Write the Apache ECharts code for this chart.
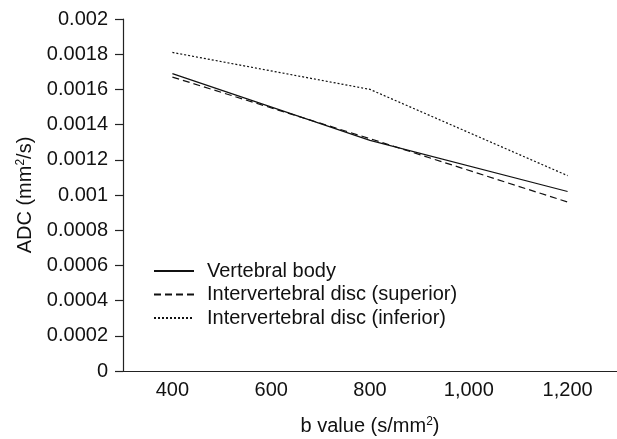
<!DOCTYPE html>
<html>
<head>
<meta charset="utf-8">
<script src="https://cdn.jsdelivr.net/npm/echarts@6/dist/echarts.min.js"></script>
<style>
  html, body { margin: 0; padding: 0; background: #fff; }
  #chart { width: 617px; height: 439px; }
</style>
</head>
<body>
<div id="chart"></div>
<script>
const bValues = ['400', '600', '800', '1,000', '1,200'];
const vertebralBody = [0.00169, null, 0.00131, null, 0.00102];
const discSuperior = [0.00167, null, 0.00132, null, 0.00096];
const discInferior = [0.00181, null, 0.00160, null, 0.00111];

const chart = echarts.init(document.getElementById('chart'));
const font = 'Liberation Sans, Arial, sans-serif';
const supStyle = { fontSize: 12, verticalAlign: 'top', padding: [0, 0, 9, 0], color: '#111', fontFamily: font };

const lineSeries = (name, data, type) => ({
  name: name,
  type: 'line',
  data: data,
  connectNulls: true,
  symbol: 'none',
  silent: true,
  itemStyle: { color: '#111' },
  lineStyle: { color: '#111', width: 1.2, type: type }
});

chart.setOption({
  animation: false,
  textStyle: { fontFamily: font },
  grid: { left: 123, right: 0, top: 19, bottom: 68, outerBoundsMode: 'none' },
  legend: {
    left: 153,
    top: 261,
    padding: 0,
    orient: 'vertical',
    itemWidth: 40,
    itemHeight: 14,
    itemGap: 3.5,
    itemStyle: { opacity: 0 },
    textStyle: { fontSize: 20, color: '#111', fontFamily: font, padding: [0, 0, 0, 8] },
    data: ['Vertebral body', 'Intervertebral disc (superior)', 'Intervertebral disc (inferior)']
  },
  xAxis: {
    type: 'category',
    data: bValues,
    boundaryGap: true,
    name: 'b value (s/mm{sup|2})',
    nameLocation: 'middle',
    nameGap: 45,
    nameTextStyle: { fontSize: 20, color: '#111', fontFamily: font, rich: { sup: supStyle } },
    axisLine: { lineStyle: { color: '#222', width: 1.2 } },
    axisTick: { length: 6, lineStyle: { color: '#222', width: 1.2 } },
    axisLabel: { fontSize: 20, color: '#111', margin: 9, fontFamily: font }
  },
  yAxis: {
    type: 'value',
    min: 0,
    max: 0.002,
    interval: 0.0002,
    name: 'ADC (mm{sup|2}/s)',
    nameLocation: 'middle',
    nameGap: 87,
    nameRotate: 90,
    nameTextStyle: { fontSize: 20, color: '#111', fontFamily: font, rich: { sup: supStyle } },
    splitLine: { show: false },
    axisLine: { show: true, lineStyle: { color: '#222', width: 1.2 } },
    axisTick: { show: true, length: 8, lineStyle: { color: '#222', width: 1.2 } },
    axisLabel: {
      fontSize: 20, color: '#111', margin: 15, fontFamily: font,
      formatter: v => String(parseFloat(v.toFixed(4)))
    }
  },
  series: [
    lineSeries('Vertebral body', vertebralBody, 'solid'),
    lineSeries('Intervertebral disc (superior)', discSuperior, [7, 4]),
    lineSeries('Intervertebral disc (inferior)', discInferior, [2, 2])
  ]
});
</script>
</body>
</html>
